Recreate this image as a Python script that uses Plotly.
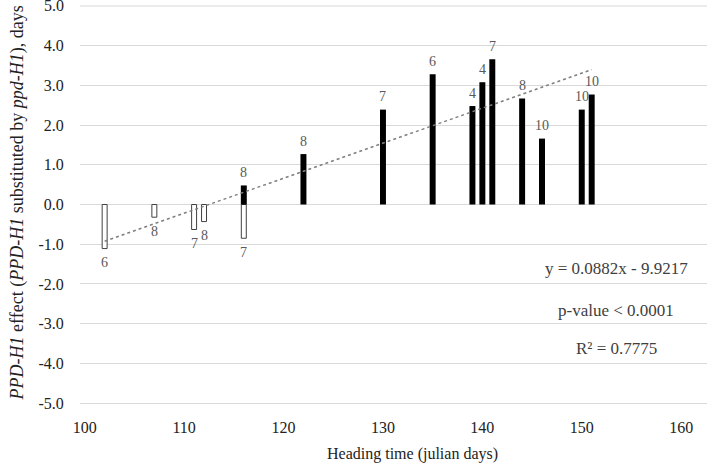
import plotly.graph_objects as go

# Heading time (julian days) and PPD-H1 effect (days)
neg_x = [102, 107, 111, 112, 116]
neg_y = [-1.11, -0.32, -0.63, -0.43, -0.85]
neg_n = ["6", "8", "7", "8", "7"]

pos_x = [116, 122, 130, 135, 139, 140, 141, 144, 146, 150, 151]
pos_y = [0.48, 1.27, 2.39, 3.28, 2.48, 3.08, 3.66, 2.67, 1.66, 2.39, 2.77]
pos_n = ["8", "8", "7", "6", "4", "4", "7", "8", "10", "10", "10"]

slope = 0.0882
intercept = -9.9217
trend_x = [102, 151]
trend_y = [slope * x + intercept for x in trend_x]

x_ticks = [100, 110, 120, 130, 140, 150, 160]
y_ticks = [-5, -4, -3, -2, -1, 0, 1, 2, 3, 4, 5]

FONT = "Liberation Serif, Times New Roman, serif"
GRID = "#d9d9d9"

fig = go.Figure()
fig.add_trace(go.Bar(x=neg_x, y=neg_y, width=0.5,
                     marker=dict(color="white", line=dict(color="#404040", width=1)),
                     showlegend=False, hoverinfo="skip"))
fig.add_trace(go.Bar(x=pos_x, y=pos_y, width=0.6,
                     marker=dict(color="black", line=dict(width=0)),
                     showlegend=False, hoverinfo="skip"))
fig.add_trace(go.Scatter(x=trend_x, y=trend_y, mode="lines",
                         line=dict(color="#7f7f7f", width=1.5, dash="dot"),
                         showlegend=False, hoverinfo="skip"))

anns = []
for x, y, t in zip(neg_x, neg_y, neg_n):
    anns.append(dict(x=x, y=y, text=t, showarrow=False, yshift=-14, xanchor="center",
                     font=dict(family=FONT, size=14, color="#595959")))
for x, y, t in zip(pos_x, pos_y, pos_n):
    anns.append(dict(x=x, y=y, text=t, showarrow=False, yshift=13, xanchor="center",
                     font=dict(family=FONT, size=14, color="#595959")))

stats = ["y = 0.0882x - 9.9217", "p-value < 0.0001", "R² = 0.7775"]
stat_y = [-1.62, -2.68, -3.63]
for t, y in zip(stats, stat_y):
    anns.append(dict(x=0.855, xref="paper", xanchor="center", y=y, yref="y", text=t,
                     showarrow=False, font=dict(family=FONT, size=17, color="#404040")))

anns.append(dict(x=-0.099, xref="paper", xanchor="center", y=0.505, yref="paper",
                 yanchor="middle", textangle=-90,
                 text="<i>PPD-H1</i> effect (<i>PPD-H1</i> substituted by <i>ppd-H1</i>), days",
                 showarrow=False, font=dict(family=FONT, size=18, color="#222222")))
anns.append(dict(x=0.531, xref="paper", xanchor="center", y=-0.123, yref="paper",
                 yanchor="middle", text="Heading time (julian days)", showarrow=False,
                 font=dict(family=FONT, size=16, color="#222222")))

# top tick (at the very edge of the plot area) drawn explicitly
top = y_ticks[-1]
anns.append(dict(x=-0.022, xref="paper", xanchor="right", y=top, yref="y",
                 yanchor="middle", text=f"{top:.1f}", showarrow=False,
                 font=dict(family=FONT, size=16, color="#222222")))

fig.update_layout(
    width=708, height=465,
    margin=dict(l=80, r=1, t=4, b=60, autoexpand=False),
    paper_bgcolor="white", plot_bgcolor="white",
    barmode="overlay",
    font=dict(family=FONT, size=16, color="#222222"),
    annotations=anns,
    shapes=[dict(type="line", xref="paper", x0=0, x1=1, yref="y", y0=top, y1=top,
                 line=dict(color=GRID, width=1), layer="below")],
    xaxis=dict(range=[99.52, 162.6], tickvals=x_ticks, ticktext=[str(v) for v in x_ticks],
               showgrid=False, zeroline=False, showline=False, automargin=False,
               ticks="outside", ticklen=8, tickcolor="rgba(0,0,0,0)",
               tickfont=dict(family=FONT, size=16, color="#222222")),
    yaxis=dict(range=[-5.05, 5.05], tickvals=y_ticks[:-1],
               ticktext=[f"{v:.1f}" for v in y_ticks[:-1]],
               showgrid=True, gridcolor=GRID, gridwidth=1,
               zeroline=False, showline=False, automargin=False,
               ticks="outside", ticklen=12, tickcolor="rgba(0,0,0,0)",
               tickfont=dict(family=FONT, size=16, color="#222222")),
)

fig.write_html("out.html", config={"displayModeBar": False},
               post_script="document.body.style.margin='0';document.body.style.overflow='hidden';")
